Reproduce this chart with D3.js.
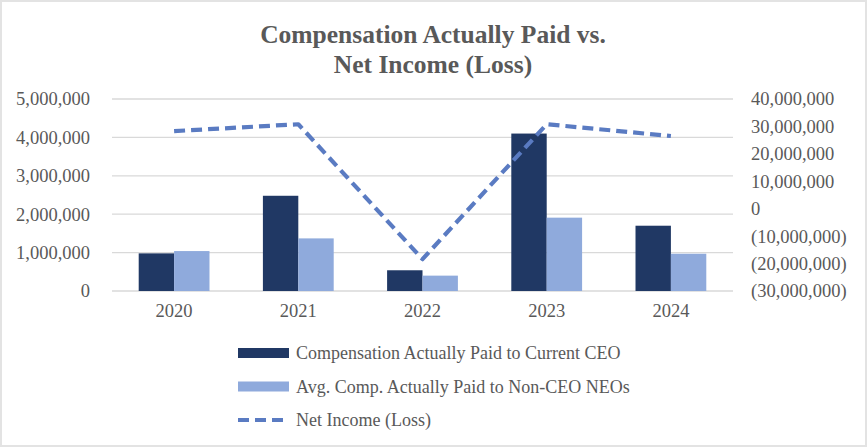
<!DOCTYPE html>
<html>
<head>
    <meta charset="utf-8">
    <title>Compensation Actually Paid vs. Net Income (Loss)</title>
    <script src="https://d3js.org/d3.v7.min.js"></script>
    <style>
        body {
            margin: 0;
            background-color: #fff;
        }
        svg text {
            font-family: 'Liberation Serif', 'Times New Roman', Tinos, 'DejaVu Serif', serif;
        }
        .tick text {
            font-size: 18.5px;
            fill: #595959;
        }
    </style>
</head>
<body>
    <div id="chart"></div>
    <script>
        // data
        const years = ['2020', '2021', '2022', '2023', '2024'];
        const ceoPaid = [980000, 2480000, 540000, 4100000, 1700000];
        const neoPaid = [1040000, 1370000, 400000, 1910000, 970000];
        const netIncome = [28300000, 30800000, -18400000, 30800000, 26500000];
        const leftTicks = [0, 1000000, 2000000, 3000000, 4000000, 5000000];
        const rightTicks = [-30000000, -20000000, -10000000, 0, 10000000, 20000000, 30000000, 40000000];
        const seriesNames = ['Compensation Actually Paid to Current CEO', 'Avg. Comp. Actually Paid to Non-CEO NEOs', 'Net Income (Loss)'];

        const width = 867;
        const height = 448;
        const margin = { top: 99, right: 134, bottom: 157, left: 112 };
        const innerW = width - margin.left - margin.right;
        const innerH = height - margin.top - margin.bottom;

        const colors = { ceo: '#203864', neo: '#8FAADC', line: '#5A7BC2', text: '#595959', grid: '#d9d9d9' };

        const svg = d3.select('#chart')
            .append('svg')
            .attr('width', width)
            .attr('height', height);

        // frame
        svg.append('rect')
            .attr('x', 1).attr('y', 1)
            .attr('width', width - 2).attr('height', height - 3)
            .attr('fill', '#fff')
            .attr('stroke', '#e3e3e3')
            .attr('stroke-width', 2);

        // title
        const title = svg.append('text')
            .attr('x', 433)
            .attr('text-anchor', 'middle')
            .attr('font-weight', 'bold')
            .attr('font-size', 25.5)
            .attr('fill', colors.text);
        title.append('tspan').attr('x', 433).attr('y', 43).text('Compensation Actually Paid vs.');
        title.append('tspan').attr('x', 433).attr('y', 73).text('Net Income (Loss)');

        const g = svg.append('g').attr('transform', `translate(${margin.left},${margin.top})`);

        const x = d3.scaleBand().domain(years).range([0, innerW]).paddingInner(0.43).paddingOuter(0.215);
        const x1 = d3.scaleBand().domain(['ceo', 'neo']).range([0, x.bandwidth()]);
        const yL = d3.scaleLinear().domain([0, 5000000]).range([innerH, 0]);
        const yR = d3.scaleLinear().domain([-30000000, 40000000]).range([innerH, 0]);

        const fmt = d3.format(',');
        const fmtR = v => v < 0 ? `(${fmt(-v)})` : fmt(v);

        // gridlines
        g.append('g')
            .selectAll('line')
            .data(leftTicks)
            .join('line')
            .attr('x1', 0).attr('x2', innerW)
            .attr('y1', d => yL(d)).attr('y2', d => yL(d))
            .attr('stroke', colors.grid)
            .attr('stroke-width', 1.3);

        // left axis
        const leftAxis = g.append('g')
            .call(d3.axisLeft(yL).tickValues(leftTicks).tickFormat(fmt).tickSize(0).tickPadding(22));
        leftAxis.select('.domain').remove();

        // right axis
        const rightAxis = g.append('g')
            .attr('transform', `translate(${innerW},0)`)
            .call(d3.axisRight(yR).tickValues(rightTicks).tickFormat(fmtR).tickSize(0).tickPadding(18));
        rightAxis.select('.domain').remove();

        // x axis
        const xAxis = g.append('g')
            .attr('transform', `translate(0,${innerH})`)
            .call(d3.axisBottom(x).tickSize(0).tickPadding(13));
        xAxis.select('.domain').remove();

        // bars
        const groups = g.append('g')
            .selectAll('g')
            .data(years.map((yr, i) => ({ yr, ceo: ceoPaid[i], neo: neoPaid[i] })))
            .join('g')
            .attr('transform', d => `translate(${x(d.yr)},0)`);

        groups.selectAll('rect')
            .data(d => [{ key: 'ceo', v: d.ceo }, { key: 'neo', v: d.neo }])
            .join('rect')
            .attr('x', d => x1(d.key))
            .attr('width', x1.bandwidth())
            .attr('y', d => yL(d.v))
            .attr('height', d => yL(0) - yL(d.v))
            .attr('fill', d => colors[d.key]);

        // net income line
        const line = d3.line()
            .x((d, i) => x(years[i]) + x.bandwidth() / 2)
            .y(d => yR(d));

        g.append('path')
            .datum(netIncome)
            .attr('d', line)
            .attr('fill', 'none')
            .attr('stroke', colors.line)
            .attr('stroke-width', 4.2)
            .attr('stroke-dasharray', '11,6')
            .attr('stroke-linejoin', 'round');

        // legend
        const legend = svg.append('g').attr('transform', 'translate(238,353)');
        const rows = legend.selectAll('g')
            .data(seriesNames)
            .join('g')
            .attr('transform', (d, i) => `translate(0,${i * 33.5})`);

        rows.filter((d, i) => i < 2)
            .append('rect')
            .attr('x', 0).attr('y', -5)
            .attr('width', 51).attr('height', 10)
            .attr('fill', (d, i) => i === 0 ? colors.ceo : colors.neo);

        rows.filter((d, i) => i === 2)
            .append('line')
            .attr('x1', 0).attr('x2', 51)
            .attr('y1', 0).attr('y2', 0)
            .attr('stroke', colors.line)
            .attr('stroke-width', 4.2)
            .attr('stroke-dasharray', '11,6');

        rows.append('text')
            .attr('x', 58)
            .attr('y', 0)
            .attr('dy', '0.35em')
            .attr('font-size', 18)
            .attr('fill', colors.text)
            .text(d => d);
    </script>
</body>
</html>
